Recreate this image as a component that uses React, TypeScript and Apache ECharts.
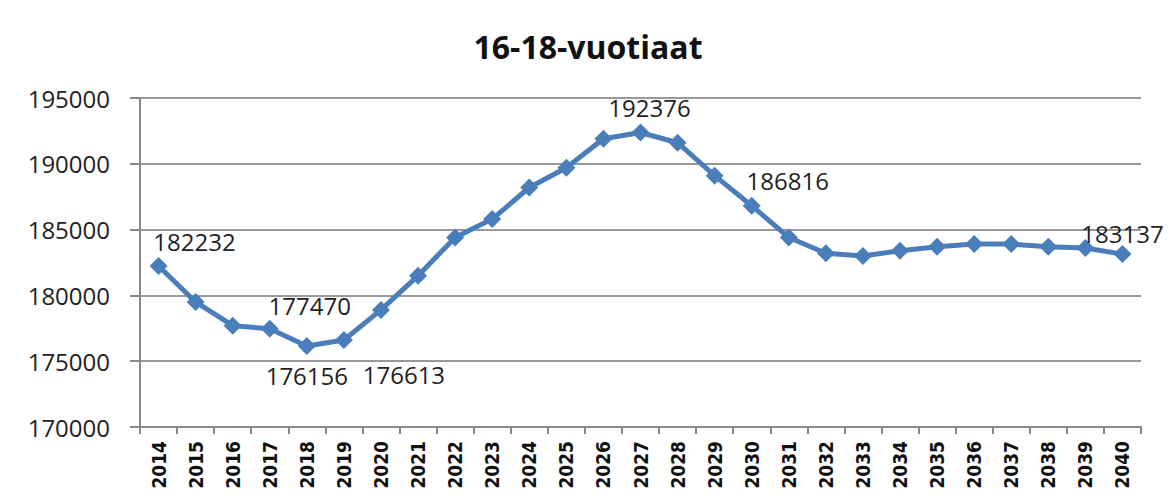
import React, { useEffect, useRef } from "react";
import * as echarts from "echarts";

const years = ["2014","2015","2016","2017","2018","2019","2020","2021","2022","2023","2024","2025","2026","2027","2028","2029","2030","2031","2032","2033","2034","2035","2036","2037","2038","2039","2040"];
const values = [182232,179500,177700,177470,176156,176613,178900,181500,184400,185800,188200,189700,191900,192376,191600,189100,186816,184400,183200,183000,183400,183700,183900,183900,183700,183600,183137];
// which points carry a label, and where
const labelPos: Record<string, string> = {
  "2014": "topRight",
  "2017": "topRight2",
  "2018": "bottom",
  "2019": "bottomRight",
  "2027": "topSlight",
  "2030": "topRight",
  "2040": "top",
};
const yTicks = { min: 170000, max: 195000, interval: 5000 };
const title = "16-18-vuotiaat";

export default function App() {
  const ref = useRef<HTMLDivElement>(null);
  useEffect(() => {
    if (!ref.current) return;
    const chart = echarts.init(ref.current, null, { renderer: "svg" });
    const font = "'Open Sans', 'Liberation Sans', sans-serif";
    const offsets: Record<string, [number, number]> = {
      topRight: [36, 0],
      topRight2: [40, 2],
      topSlight: [9, 0],
      top: [0, 4],
      bottom: [0, 5],
      bottomRight: [60, 10],
    };
    const data = values.map((v, i) => {
      const p = labelPos[years[i]];
      if (!p) return { value: v };
      const base = p.startsWith("top") ? "top" : "bottom";
      return {
        value: v,
        label: {
          show: true,
          position: base,
          offset: offsets[p],
          distance: 4,
        },
      };
    });
    chart.setOption({
      animation: false,
      title: {
        text: title,
        left: "center",
        top: 25,
        textStyle: { fontFamily: font, fontSize: 32, fontWeight: "bold", color: "#111" },
      },
      grid: { left: 140, right: 35, top: 98, bottom: 77 },
      xAxis: {
        type: "category",
        data: years,
        boundaryGap: true,
        axisLine: { lineStyle: { color: "#888", width: 2 } },
        axisTick: { show: true, length: 7, lineStyle: { color: "#888", width: 2 } },
        axisLabel: {
          rotate: 90,
          margin: 14,
          fontFamily: "'DejaVu Sans Condensed', 'Liberation Sans Narrow', 'Liberation Sans', sans-serif",
          fontSize: 19,
          fontWeight: "bold",
          color: "#111",
          interval: 0,
        },
      },
      yAxis: {
        type: "value",
        min: yTicks.min,
        max: yTicks.max,
        interval: yTicks.interval,
        axisLine: { show: true, lineStyle: { color: "#888", width: 2 } },
        axisTick: { show: true, length: 10, lineStyle: { color: "#888", width: 2 } },
        splitLine: { lineStyle: { color: "#999", width: 2 } },
        axisLabel: {
          margin: 30,
          fontFamily: font,
          fontSize: 24,
          color: "#222",
          formatter: (v: number) => String(v),
        },
      },
      series: [
        {
          type: "line",
          data,
          symbol: "diamond",
          symbolSize: 18,
          lineStyle: { color: "#4a7ebb", width: 5 },
          itemStyle: { color: "#4a7ebb" },
          label: { show: false, fontFamily: font, fontSize: 24, color: "#222" },
        },
      ],
    });
    return () => chart.dispose();
  }, []);
  return (
    <div style={{ position: "relative", width: 1176, height: 504, marginLeft: -8, marginTop: -8 }}>
      <div ref={ref} style={{ width: 1176, height: 504 }} />
      <div
        style={{
          position: "absolute",
          left: 4,
          top: 4,
          width: 1164,
          height: 520,
          border: "2px solid #b0b0b0",
          pointerEvents: "none",
        }}
      />
    </div>
  );
}
